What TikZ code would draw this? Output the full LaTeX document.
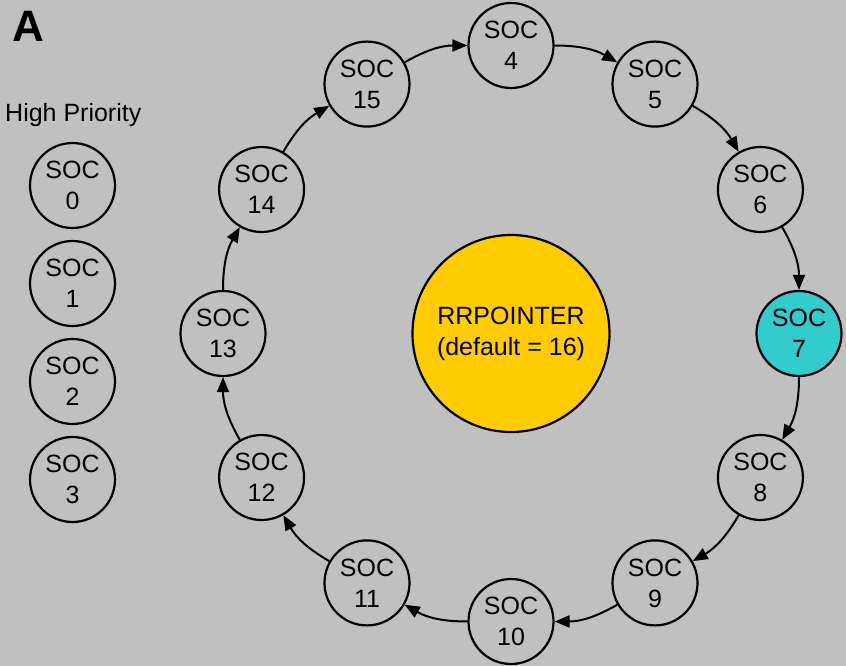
\documentclass[tikz,border=0pt]{standalone}
\usepackage{fontspec}
\setmainfont{Liberation Sans}
\usetikzlibrary{arrows.meta}
\definecolor{bggray}{RGB}{192,192,192}
\definecolor{rryellow}{RGB}{255,204,0}
\definecolor{soccyan}{RGB}{51,204,204}
\tikzset{
  soc/.style={circle,draw=black,line width=2.2pt,minimum size=85pt,inner sep=0pt,
    align=center,font=\fontsize{25}{31}\selectfont},
  arr/.style={line width=2pt,-{Triangle[length=15pt,width=12pt]},bend left=15},
  lbl/.style={font=\fontsize{25}{31}\selectfont,inner sep=0pt}
}
\begin{document}
\begin{tikzpicture}[x=1pt,y=1pt]
\fill[bggray] (0,0) rectangle (846,-666);
\useasboundingbox (0,0) rectangle (846,-666);
\coordinate (c) at (511,-333.5);
% title and label
\node[anchor=base west,inner sep=0pt,font=\fontsize{44}{50}\selectfont\bfseries] (ttl) at (12,-42) {A};
\node[lbl,anchor=base west] (hp) at (5,-122) {High Priority};
% high priority column
\node[soc] (s0) at (72.5,-185.5) {SOC\\0};
\node[soc] (s1) at (72.5,-283.5) {SOC\\1};
\node[soc] (s2) at (72.5,-381.5) {SOC\\2};
\node[soc] (s3) at (72.5,-479.5) {SOC\\3};
% centre
\node[circle,draw=black,line width=2.2pt,fill=rryellow,minimum size=197pt,inner sep=0pt,
  align=center,font=\fontsize{25}{31}\selectfont] (rr) at (c) {RRPOINTER\\(default = 16)};
% ring
\path (c) ++(90:288)  node[soc] (s4)  {SOC\\4};
\path (c) ++(60:288)  node[soc] (s5)  {SOC\\5};
\path (c) ++(30:288)  node[soc] (s6)  {SOC\\6};
\path (c) ++(0:288)   node[soc,fill=soccyan] (s7)  {SOC\\7};
\path (c) ++(-30:288) node[soc] (s8)  {SOC\\8};
\path (c) ++(-60:288) node[soc] (s9)  {SOC\\9};
\path (c) ++(-90:288) node[soc] (s10) {SOC\\10};
\path (c) ++(-120:288) node[soc] (s11) {SOC\\11};
\path (c) ++(-150:288) node[soc] (s12) {SOC\\12};
\path (c) ++(180:288) node[soc] (s13) {SOC\\13};
\path (c) ++(150:288) node[soc] (s14) {SOC\\14};
\path (c) ++(120:288) node[soc] (s15) {SOC\\15};
% arrows
\draw[arr] (s4) to (s5);
\draw[arr] (s5) to (s6);
\draw[arr] (s6) to (s7);
\draw[arr] (s7) to (s8);
\draw[arr] (s8) to (s9);
\draw[arr] (s9) to (s10);
\draw[arr] (s10) to (s11);
\draw[arr] (s11) to (s12);
\draw[arr] (s12) to (s13);
\draw[arr] (s13) to (s14);
\draw[arr] (s14) to (s15);
\draw[arr] (s15) to (s4);
\end{tikzpicture}
\end{document}
